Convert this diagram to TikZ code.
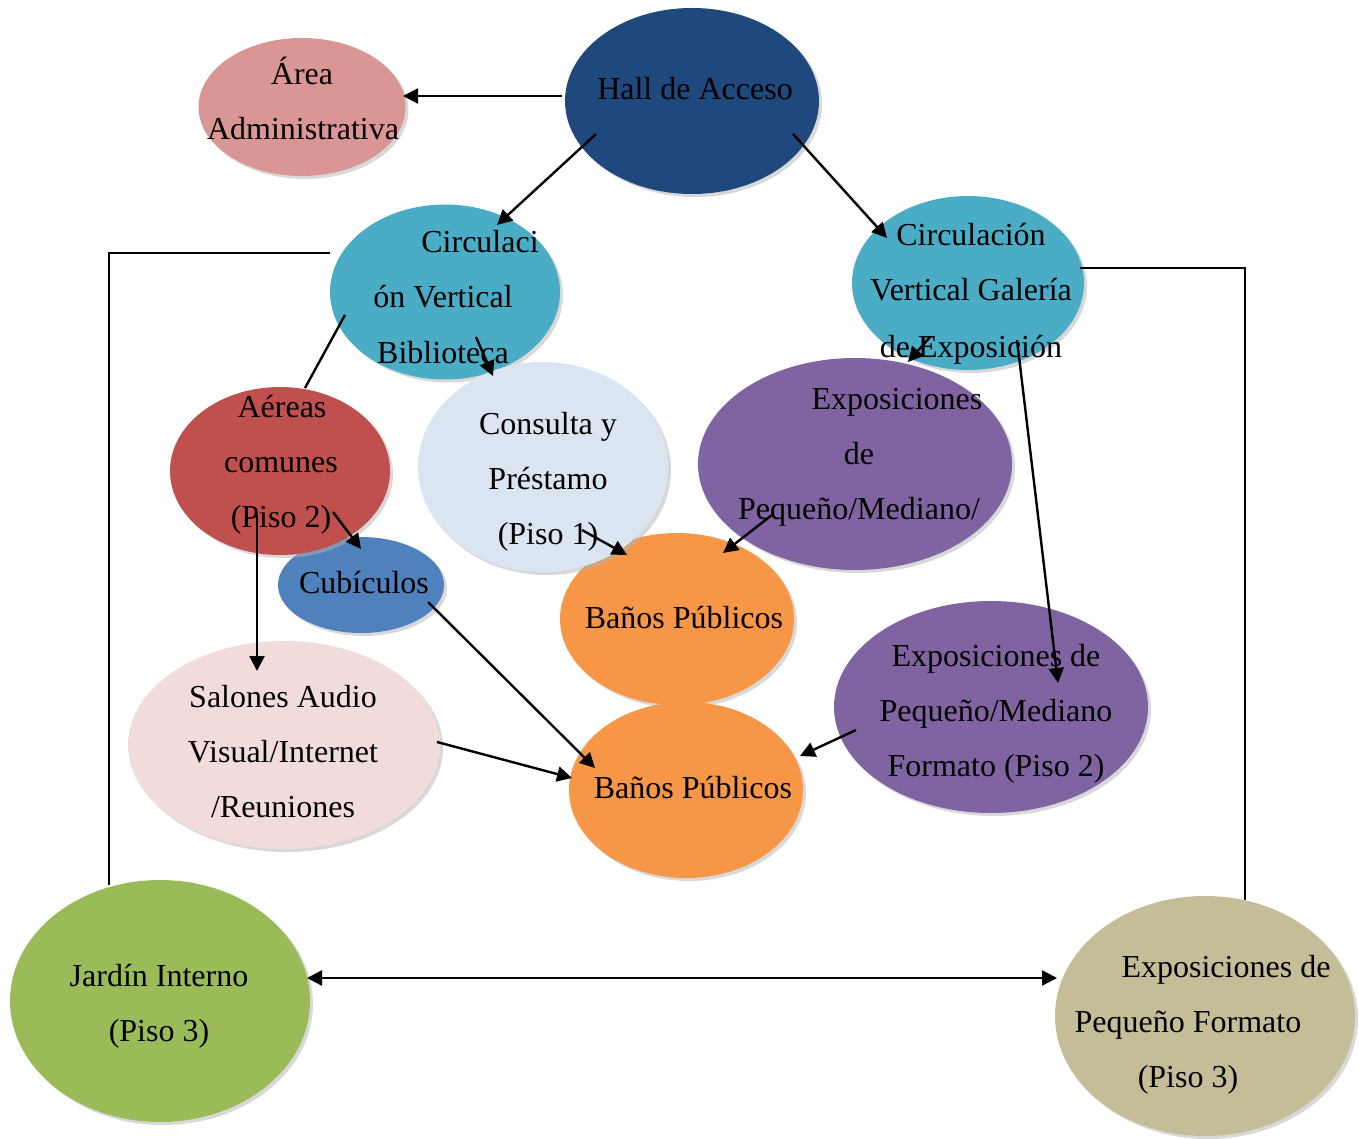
\documentclass[tikz,border=0pt]{standalone}
\usepackage{fontspec}
\setmainfont{Liberation Serif}
\usetikzlibrary{shapes.geometric,arrows.meta,shadows}
\definecolor{adminc}{RGB}{217,150,148}
\definecolor{hallc}{RGB}{31,73,125}
\definecolor{tealc}{RGB}{75,172,198}
\definecolor{redc}{RGB}{192,80,77}
\definecolor{lbluec}{RGB}{219,229,241}
\definecolor{purplec}{RGB}{128,100,162}
\definecolor{cubc}{RGB}{79,129,189}
\definecolor{orangec}{RGB}{247,150,70}
\definecolor{salonc}{RGB}{242,220,219}
\definecolor{greenc}{RGB}{155,187,89}
\definecolor{tanc}{RGB}{196,189,151}
\tikzset{
  blob/.style={ellipse,inner sep=0pt,draw=none,
    drop shadow={shadow xshift=3pt,shadow yshift=-3pt,fill=black!30}},
  txt/.style={inner sep=0pt,anchor=base,font=\fontsize{32}{55}\selectfont},
  conn/.style={line width=2.4pt,draw=black},
  arr/.style={conn,-{Triangle[length=15pt,width=15pt]}},
  darr/.style={conn,{Triangle[length=15pt,width=15pt]}-{Triangle[length=15pt,width=15pt]}}
}
\begin{document}
\begin{tikzpicture}[x=1pt,y=-1pt]
\useasboundingbox (0,0) rectangle (1359,1139);
% ellipses
\node[blob,fill=adminc,minimum width=207pt,minimum height=138pt] (admin) at (302,107) {};
\node[blob,fill=hallc,minimum width=254pt,minimum height=186pt] (hall) at (692,101) {};
\node[blob,fill=tealc,minimum width=230pt,minimum height=175pt] (cbib) at (445,292) {};
\node[blob,fill=tealc,minimum width=232pt,minimum height=174pt] (cgal) at (968,283) {};
\node[blob,fill=orangec,minimum width=234pt,minimum height=172pt] (banos1) at (677,619) {};
\node[blob,fill=lbluec,minimum width=250pt,minimum height=210pt] (consulta) at (543,467) {};
\node[blob,fill=purplec,minimum width=314pt,minimum height=212pt] (expo1) at (855,464) {};
\node[blob,fill=cubc,minimum width=166pt,minimum height=96pt] (cub) at (361,585) {};
\node[blob,fill=redc,minimum width=220pt,minimum height=168pt] (aereas) at (280,471) {};
\node[blob,fill=salonc,minimum width=312pt,minimum height=208pt] (salones) at (284,745) {};
\node[blob,fill=orangec,minimum width=234pt,minimum height=176pt] (banos2) at (686,790) {};
\node[blob,fill=purplec,minimum width=314pt,minimum height=212pt] (expo2) at (991,707) {};
\node[blob,fill=greenc,minimum width=300pt,minimum height=242pt] (jardin) at (160,1001) {};
\node[blob,fill=tanc,minimum width=300pt,minimum height=240pt] (expo3) at (1205,1016) {};
% texts
\node[txt] (admint1) at (302,85) {Área};
\node[txt] (admint2) at (303,140) {Administrativa};
\node[txt] (hallt) at (695,100) {Hall de Acceso};
\node[txt] (cbibt1) at (480,253) {Circulaci};
\node[txt] (cbibt2) at (443,308) {ón Vertical};
\node[txt] (cbibt3) at (443,363) {Biblioteca};
\node[txt] (cgalt1) at (971,246) {Circulación};
\node[txt] (cgalt2) at (971,301) {Vertical Galería};
\node[txt] (cgalt3) at (971,357) {de Exposición};
\node[txt] (aereast1) at (282,417) {Aéreas};
\node[txt] (aereast2) at (281,472) {comunes};
\node[txt] (aereast3) at (281,527) {(Piso 2)};
\node[txt] (consultat1) at (548,434) {Consulta y};
\node[txt] (consultat2) at (548,489) {Préstamo};
\node[txt] (consultat3) at (548,544) {(Piso 1)};
\node[txt] (expo1t1) at (897,409) {Exposiciones};
\node[txt] (expo1t2) at (859,464) {de};
\node[txt] (expo1t3) at (859,519) {Pequeño/Mediano/};
\node[txt] (cubt) at (364,593) {Cubículos};
\node[txt] (banos1t) at (684,628) {Baños Públicos};
\node[txt] (salonest1) at (283,707) {Salones Audio};
\node[txt] (salonest2) at (283,762) {Visual/Internet};
\node[txt] (salonest3) at (283,817) {/Reuniones};
\node[txt] (banos2t) at (693,798) {Baños Públicos};
\node[txt] (expo2t1) at (996,666) {Exposiciones de};
\node[txt] (expo2t2) at (996,721) {Pequeño/Mediano};
\node[txt] (expo2t3) at (996,776) {Formato (Piso 2)};
\node[txt] (jardint1) at (159,986) {Jardín Interno};
\node[txt] (jardint2) at (159,1041) {(Piso 3)};
\node[txt] (expo3t1) at (1226,977) {Exposiciones de};
\node[txt] (expo3t2) at (1188,1032) {Pequeño Formato};
\node[txt] (expo3t3) at (1188,1087) {(Piso 3)};
% connector end points
\coordinate (p1s) at (562,96);   \coordinate (p1e) at (403,96);
\coordinate (p2s) at (596,134);  \coordinate (p2e) at (497,225);
\coordinate (p3s) at (793,134);  \coordinate (p3e) at (887,238);
\coordinate (p4s) at (345,315);  \coordinate (p4e) at (305,388);
\coordinate (p5s) at (476,337);  \coordinate (p5e) at (493,376);
\coordinate (p6s) at (330,253);  \coordinate (p6m) at (109,253); \coordinate (p6e) at (109,885);
\coordinate (p7s) at (1080,268); \coordinate (p7m) at (1245,268); \coordinate (p7e) at (1245,900);
\coordinate (p8s) at (930,337);  \coordinate (p8e) at (908,362);
\coordinate (p9s) at (1017,340); \coordinate (p9e) at (1058,683);
\coordinate (p10s) at (333,512); \coordinate (p10e) at (361,549);
\coordinate (p11s) at (257,515); \coordinate (p11e) at (257,671);
\coordinate (p12s) at (582,530); \coordinate (p12e) at (627,555);
\coordinate (p13s) at (772,515); \coordinate (p13e) at (723,553);
\coordinate (p14s) at (428,602); \coordinate (p14e) at (595,768);
\coordinate (p15s) at (437,742); \coordinate (p15e) at (572,778);
\coordinate (p16s) at (856,730); \coordinate (p16e) at (800,756);
\coordinate (p17s) at (307,978); \coordinate (p17e) at (1057,978);
% connectors
\draw[arr] (p1s) -- (p1e);
\draw[arr] (p2s) -- (p2e);
\draw[arr] (p3s) -- (p3e);
\draw[conn] (p4s) -- (p4e);
\draw[arr] (p5s) -- (p5e);
\draw[conn] (p6s) -- (p6m) -- (p6e);
\draw[conn] (p7s) -- (p7m) -- (p7e);
\draw[arr] (p8s) -- (p8e);
\draw[arr] (p9s) -- (p9e);
\draw[arr] (p10s) -- (p10e);
\draw[arr] (p11s) -- (p11e);
\draw[arr] (p12s) -- (p12e);
\draw[arr] (p13s) -- (p13e);
\draw[arr] (p14s) -- (p14e);
\draw[arr] (p15s) -- (p15e);
\draw[arr] (p16s) -- (p16e);
\draw[darr] (p17s) -- (p17e);
\end{tikzpicture}
\end{document}
